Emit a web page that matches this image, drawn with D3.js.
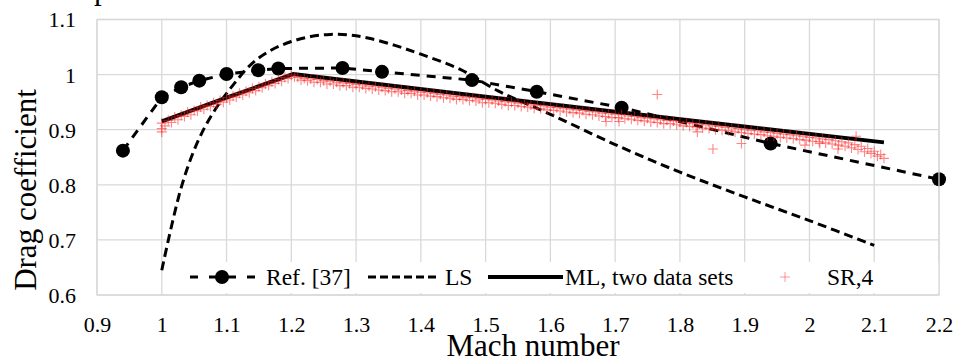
<!DOCTYPE html>
<html><head><meta charset="utf-8">
<script src="https://cdn.jsdelivr.net/npm/d3@7"></script>
<style>body{margin:0;background:#fff}svg{display:block}svg text{font-family:"Liberation Serif","Times New Roman",Tinos,"Nimbus Roman","DejaVu Serif",serif !important}</style>
</head><body><svg id="c" width="956" height="357"></svg>
<script>
const xTicks = [0.9,1.0,1.1,1.2,1.3,1.4,1.5,1.6,1.7,1.8,1.9,2.0,2.1,2.2];
const xTickLabels = ["0.9","1","1.1","1.2","1.3","1.4","1.5","1.6","1.7","1.8","1.9","2","2.1","2.2"];
const yTicks = [0.6,0.7,0.8,0.9,1.0,1.1];
const yTickLabels = ["0.6","0.7","0.8","0.9","1","1.1"];
const seriesNames = ["Ref. [37]","LS","ML, two data sets","SR,4"];

const refPoints = [[0.94,0.862],[1.0,0.959],[1.03,0.977],[1.058,0.989],[1.1,1.001],[1.149,1.008],[1.18,1.011],[1.279,1.012],[1.34,1.005],[1.479,0.990],[1.579,0.969],[1.71,0.940],[1.94,0.875],[2.2,0.810]];
const lsPoints = [[1.0,0.645],[1.03,0.795],[1.055,0.877],[1.08,0.932],[1.11,0.981],[1.14,1.021],[1.17,1.045],[1.2,1.060],[1.23,1.069],[1.26,1.073],[1.29,1.072],[1.32,1.066],[1.36,1.053],[1.4,1.037],[1.46,1.010],[1.52,0.970],[1.6,0.928],[1.7,0.873],[1.8,0.823],[1.9,0.778],[2.0,0.735],[2.1,0.690]];
const mlPoints = [[1.0,0.915],[1.1,0.958],[1.203,1.001],[1.5,0.960],[1.8,0.919],[2.115,0.877]];
const srPoints = [
[1.00,0.912],[1.00,0.902],[1.00,0.896],[1.005,0.907],[1.01,0.917],[1.015,0.913],[1.02,0.923],[1.025,0.918],[1.03,0.926],[1.035,0.924],
[1.04,0.932],[1.045,0.927],[1.05,0.935],[1.055,0.934],[1.06,0.941],[1.065,0.937],[1.07,0.944],[1.075,0.942],[1.08,0.949],[1.085,0.946],
[1.09,0.953],[1.095,0.950],[1.10,0.958],[1.105,0.954],[1.11,0.961],[1.115,0.959],[1.12,0.966],[1.125,0.963],[1.13,0.970],[1.135,0.967],
[1.14,0.975],[1.145,0.971],[1.15,0.978],[1.155,0.976],[1.16,0.983],[1.165,0.980],[1.17,0.987],[1.175,0.984],[1.18,0.991],[1.185,0.988],
[1.19,0.995],[1.195,0.993],[1.20,0.999],[1.205,0.996],
[1.21,0.995],[1.22,0.993],[1.23,0.992],[1.24,0.991],[1.25,0.989],[1.26,0.988],[1.27,0.986],[1.28,0.985],[1.29,0.984],[1.30,0.982],
[1.31,0.981],[1.32,0.979],[1.33,0.978],[1.34,0.977],[1.35,0.975],[1.36,0.974],[1.37,0.972],[1.38,0.971],[1.39,0.970],[1.40,0.968],
[1.41,0.967],[1.42,0.966],[1.43,0.964],[1.44,0.963],[1.45,0.961],[1.46,0.960],[1.47,0.959],[1.48,0.958],[1.49,0.956],[1.50,0.955],
[1.51,0.954],[1.52,0.952],[1.53,0.951],[1.54,0.950],[1.55,0.948],[1.56,0.947],[1.57,0.945],[1.58,0.944],[1.59,0.943],[1.60,0.941],
[1.61,0.940],[1.62,0.939],[1.63,0.937],[1.64,0.936],[1.65,0.935],[1.66,0.933],[1.67,0.932],[1.68,0.930],[1.69,0.929],[1.70,0.928],
[1.71,0.927],[1.72,0.925],[1.73,0.924],[1.74,0.922],[1.75,0.921],[1.76,0.920],[1.77,0.918],[1.78,0.917],[1.79,0.916],[1.80,0.914],
[1.81,0.913],[1.82,0.911],[1.83,0.910],[1.84,0.909],[1.85,0.907],[1.86,0.906],[1.87,0.904],[1.88,0.903],[1.89,0.902],[1.90,0.900],
[1.91,0.899],[1.92,0.898],[1.93,0.896],[1.94,0.895],[1.95,0.893],[1.96,0.892],[1.97,0.891],[1.98,0.889],[1.99,0.888],[2.00,0.886],
[2.01,0.885],[2.02,0.883],[2.03,0.882],[2.04,0.880],[2.05,0.878],[2.06,0.876],[2.07,0.873],[2.08,0.870],[2.09,0.866],[2.10,0.861],[2.11,0.855],
[1.215,0.990],[1.225,0.989],[1.235,0.986],[1.245,0.986],[1.255,0.983],[1.265,0.983],[1.275,0.980],[1.285,0.980],[1.295,0.977],[1.305,0.977],
[1.315,0.975],[1.325,0.974],[1.335,0.972],[1.345,0.971],[1.355,0.969],[1.365,0.969],[1.375,0.966],[1.385,0.966],[1.395,0.963],[1.405,0.963],
[1.415,0.961],[1.425,0.960],[1.435,0.958],[1.445,0.957],[1.455,0.955],[1.465,0.955],[1.475,0.953],[1.485,0.952],[1.495,0.949],[1.505,0.949],
[1.515,0.948],[1.525,0.946],[1.535,0.944],[1.545,0.944],[1.555,0.942],[1.565,0.941],[1.575,0.939],[1.585,0.938],[1.595,0.936],[1.605,0.935],
[1.615,0.934],[1.625,0.932],[1.635,0.931],[1.645,0.930],[1.655,0.928],[1.665,0.927],[1.675,0.925],[1.685,0.924],[1.695,0.922],[1.705,0.922],
[1.715,0.920],[1.725,0.919],[1.735,0.917],[1.745,0.916],[1.755,0.914],[1.765,0.913],[1.775,0.911],[1.785,0.911],[1.795,0.909],[1.805,0.907],
[1.815,0.906],[1.825,0.905],[1.835,0.903],[1.845,0.902],[1.855,0.900],[1.865,0.899],[1.875,0.898],[1.885,0.896],[1.895,0.895],[1.905,0.893],
[1.915,0.892],[1.925,0.891],[1.935,0.889],[1.945,0.888],[1.955,0.886],[1.965,0.885],[1.975,0.884],[1.985,0.882],[1.995,0.881],[2.005,0.879],
[2.015,0.878],[2.025,0.876],[2.035,0.874],[2.045,0.872],[2.055,0.870],[2.065,0.867],[2.075,0.864],[2.085,0.860],[2.095,0.857],[2.105,0.852],[2.115,0.848],
[1.765,0.964],[1.686,0.915],[1.706,0.915],[1.827,0.896],[1.851,0.865],[1.895,0.875],[1.993,0.872],[2.016,0.875],[2.044,0.865],[2.072,0.888]
];

const FONT = '"Liberation Serif","Times New Roman",Tinos,"Nimbus Roman","DejaVu Serif",serif';
const svg = d3.select("#c");
const L = 97, R = 939, T = 19.5, B = 295;
const x = d3.scaleLinear().domain([0.9,2.2]).range([L,R]);
const y = d3.scaleLinear().domain([0.6,1.1]).range([B,T]);
const grid = "#d9d9d9";

// cut-off caption glyph at top
svg.append("text").attr("x",94).attr("y",-1.5).attr("font-size",31).attr("font-family",FONT).attr("fill","#000").text("p");

// gridlines
svg.append("g").selectAll("line").data(xTicks).join("line")
  .attr("x1",d=>x(d)).attr("x2",d=>x(d)).attr("y1",T).attr("y2",B)
  .attr("stroke",grid).attr("stroke-width",1.3);
svg.append("g").selectAll("line").data(yTicks).join("line")
  .attr("x1",L).attr("x2",R).attr("y1",d=>y(d)).attr("y2",d=>y(d))
  .attr("stroke",grid).attr("stroke-width",1.3);

// axes labels via d3 axes
const xAxis = d3.axisBottom(x).tickValues(xTicks).tickFormat((d,i)=>xTickLabels[i]).tickSize(0).tickPadding(0);
const gx = svg.append("g").attr("transform",`translate(0,${B})`).call(xAxis);
gx.attr("font-family",FONT).attr("font-size",22);
gx.select(".domain").remove();
gx.selectAll("text").attr("font-family",FONT).attr("font-size",22).attr("fill","#000").attr("dy",null).attr("y",37);

const yAxis = d3.axisLeft(y).tickValues(yTicks).tickFormat((d,i)=>yTickLabels[i]).tickSize(0).tickPadding(0);
const gy = svg.append("g").attr("transform",`translate(76,0)`).call(yAxis);
gy.attr("font-family",FONT).attr("font-size",22);
gy.select(".domain").remove();
gy.selectAll("text").attr("font-family",FONT).attr("font-size",22).attr("fill","#000").attr("dy","0.34em");

// axis titles
svg.append("text").attr("transform","translate(36,190) rotate(-90)").attr("text-anchor","middle")
  .attr("font-family",FONT).attr("font-size",31).attr("fill","#000").text("Drag coefficient");
svg.append("text").attr("x",533).attr("y",356).attr("text-anchor","middle")
  .attr("font-family",FONT).attr("font-size",31).attr("fill","#000").text("Mach number");

const line = d3.line().x(d=>x(d[0])).y(d=>y(d[1]));
const smooth = d3.line().x(d=>x(d[0])).y(d=>y(d[1])).curve(d3.curveCatmullRom.alpha(0.5));

// Ref line
svg.append("path").datum(refPoints).attr("d",line).attr("fill","none")
  .attr("stroke","#000").attr("stroke-width",3).attr("stroke-dasharray","9,7");
// LS
svg.append("path").datum(lsPoints).attr("d",smooth).attr("fill","none")
  .attr("stroke","#000").attr("stroke-width",3).attr("stroke-dasharray","9,5");
// ML
svg.append("path").datum(mlPoints).attr("d",line).attr("fill","none")
  .attr("stroke","#000").attr("stroke-width",4);
svg.append("g").selectAll("circle").data(refPoints).join("circle")
  .attr("cx",d=>x(d[0])).attr("cy",d=>y(d[1])).attr("r",7).attr("fill","#000");

// SR crosses
const cs = 5;
svg.append("g").selectAll("path").data(srPoints).join("path")
  .attr("d",d=>{const cx=x(d[0]), cy=y(d[1]);return `M${cx-cs},${cy}H${cx+cs}M${cx},${cy-cs}V${cy+cs}`;})
  .attr("stroke","#ff2020").attr("stroke-opacity",0.55).attr("stroke-width",1.1).attr("fill","none");

// plot border
svg.append("rect").attr("x",L).attr("y",T).attr("width",R-L).attr("height",B-T)
  .attr("fill","none").attr("stroke",grid).attr("stroke-width",1.3);

// legend
const lg = svg.append("g").attr("font-family",FONT);
lg.append("rect").attr("x",178).attr("y",262).attr("width",R-178-0.7).attr("height",31).attr("fill","#fff");
const ly = 277, fs = 23.5;
lg.append("line").attr("x1",190).attr("x2",256).attr("y1",ly).attr("y2",ly).attr("stroke","#000").attr("stroke-width",3).attr("stroke-dasharray","8,11");
lg.append("circle").attr("cx",222).attr("cy",ly).attr("r",7).attr("fill","#000");
lg.append("text").attr("x",266).attr("y",ly+7.5).attr("font-size",fs).attr("font-family",FONT).text(seriesNames[0]);
lg.append("line").attr("x1",368).attr("x2",438).attr("y1",ly).attr("y2",ly).attr("stroke","#000").attr("stroke-width",3).attr("stroke-dasharray","8,4");
lg.append("text").attr("x",445).attr("y",ly+7.5).attr("font-size",fs).attr("font-family",FONT).text(seriesNames[1]);
lg.append("line").attr("x1",488).attr("x2",563).attr("y1",ly).attr("y2",ly).attr("stroke","#000").attr("stroke-width",4);
lg.append("text").attr("x",565).attr("y",ly+7.5).attr("font-size",fs).attr("font-family",FONT).text(seriesNames[2]);
lg.append("path").attr("d",`M${785-cs},${ly}H${785+cs}M785,${ly-cs}V${ly+cs}`).attr("stroke","#ff3030").attr("stroke-opacity",0.5).attr("stroke-width",1);
lg.append("text").attr("x",827).attr("y",ly+7.5).attr("font-size",fs).attr("font-family",FONT).text(seriesNames[3]);
</script></body></html>
